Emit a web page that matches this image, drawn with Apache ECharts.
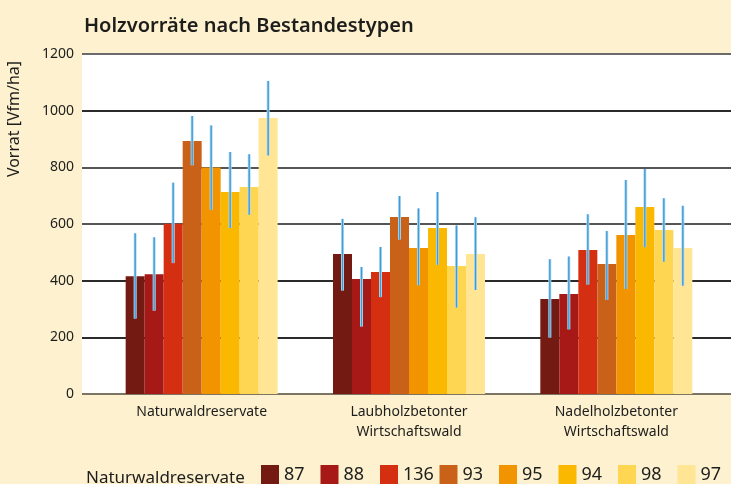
<!DOCTYPE html>
<html>
<head>
<meta charset="utf-8">
<title>Holzvorräte nach Bestandestypen</title>
<script src="https://cdn.jsdelivr.net/npm/echarts@6/dist/echarts.min.js"></script>
<style>
html, body { margin: 0; padding: 0; background: #fdf1d0; }
#chart { width: 731px; height: 484px; }
</style>
</head>
<body>
<div id="chart"></div>
<script>
// Kategorien und Reihen
var categories = ['Naturwaldreservate', 'Laubholzbetonter\nWirtschaftswald', 'Nadelholzbetonter\nWirtschaftswald'];
var seriesNames = ['87', '88', '136', '93', '95', '94', '98', '97'];
var colors = ['#731a12', '#a61916', '#d42f11', '#c96218', '#f29400', '#fbb800', '#fed651', '#ffe594'];
var yTicks = [0, 200, 400, 600, 800, 1000, 1200];

// Mittelwerte je Reihe, in Reihenfolge der Kategorien
var values = [
	[416, 494, 335],
	[423, 406, 353],
	[601, 431, 508],
	[893, 625, 459],
	[799, 515, 561],
	[713, 586, 660],
	[731, 452, 579],
	[974, 494, 515]
];
// untere / obere Enden der Fehlerbalken
var errLow = [
	[266, 365, 199],
	[294, 238, 228],
	[462, 342, 386],
	[807, 545, 332],
	[650, 384, 371],
	[586, 456, 518],
	[633, 305, 467],
	[842, 367, 382]
];
var errHigh = [
	[567, 618, 476],
	[553, 448, 485],
	[746, 519, 634],
	[981, 699, 575],
	[948, 655, 755],
	[854, 713, 794],
	[846, 595, 691],
	[1105, 624, 664]
];

var BAR_W = 19;
var FONT = 'Noto Sans';
var TXT = '#1d1d1b';

var myChart = echarts.init(document.getElementById('chart'));

var series = [];
var legends = [];
$each = function (arr, fn) { for (var i = 0; i < arr.length; i++) fn(i, arr[i]); };
$each(seriesNames, function (i, name) {
	series.push({
		name: name,
		type: 'bar',
		xAxisIndex: 1,
		yAxisIndex: 1,
		barWidth: BAR_W,
		barGap: 0,
		itemStyle: { color: colors[i], borderWidth: 0 },
		data: values[i],
		z: 2
	});
	// ein Legendeneintrag je Reihe, gleichmässig verteilt
	legends.push({
		data: [name],
		left: 261 + i * 59.5,
		top: 465,
		icon: 'rect',
		itemWidth: 18,
		itemHeight: 19,
		padding: 0,
		textStyle: { fontFamily: FONT, fontSize: 18, color: TXT, padding: [3, 0, 0, 0] }
	});
});

// Fehlerbalken: [kategorie, reihe, unten, oben]
var errData = [];
$each(seriesNames, function (i) {
	$each(categories, function (j) {
		errData.push([j, i, errLow[i][j], errHigh[i][j]]);
	});
});
series.push({
	name: 'err',
	type: 'custom',
	xAxisIndex: 1,
	yAxisIndex: 1,
	z: 5,
	silent: true,
	data: errData,
	renderItem: function (params, api) {
		var off = (api.value(1) - 3.5) * BAR_W;
		var p1 = api.coord([api.value(0), api.value(2)]);
		var p2 = api.coord([api.value(0), api.value(3)]);
		return {
			type: 'group',
			children: [{
				type: 'line',
				shape: { x1: p1[0] + off, y1: p1[1], x2: p2[0] + off, y2: p2[1] },
				style: { stroke: '#b5dcf2', lineWidth: 3 }
			}, {
				type: 'line',
				shape: { x1: p1[0] + off, y1: p1[1], x2: p2[0] + off, y2: p2[1] },
				style: { stroke: '#3e9bd6', lineWidth: 1.4 }
			}]
		};
	}
});

var option = {
	backgroundColor: '#fdf1d0',
	animation: false,
	textStyle: { fontFamily: FONT },
	title: [{
		text: 'Holzvorräte nach Bestandestypen',
		left: 79,
		top: 11,
		textStyle: { fontFamily: FONT, fontSize: 20, fontWeight: 600, color: TXT }
	}, {
		text: 'Naturwaldreservate',
		left: 81,
		top: 465,
		textStyle: { fontFamily: FONT, fontSize: 17, fontWeight: 'normal', color: TXT }
	}],
	legend: legends,
	graphic: [{
		type: 'text',
		x: 14,
		y: 119,
		rotation: Math.PI / 2,
		style: {
			text: 'Vorrat [Vfm/ha]',
			font: '16px "Noto Sans"',
			fill: TXT,
			align: 'center',
			verticalAlign: 'middle'
		}
	}],
	grid: [{
		// weisser Hintergrund mit Gitterlinien
		left: 82, right: 0, top: 54, bottom: 90,
		show: true, backgroundColor: '#ffffff', borderWidth: 0,
		outerBoundsMode: 'none'
	}, {
		// Balkenbereich
		left: 98, right: 11, top: 54, bottom: 90,
		outerBoundsMode: 'none'
	}],
	xAxis: [{
		gridIndex: 0,
		type: 'value',
		show: false
	}, {
		gridIndex: 1,
		type: 'category',
		data: categories,
		axisLine: { show: false },
		axisTick: { show: false },
		axisLabel: { fontFamily: FONT, fontSize: 14, color: TXT, margin: 8, lineHeight: 20, interval: 0 }
	}],
	yAxis: [{
		gridIndex: 0,
		type: 'value',
		min: yTicks[0],
		max: yTicks[yTicks.length - 1],
		interval: 200,
		axisLine: { show: false },
		axisTick: { show: false },
		axisLabel: {
			fontFamily: FONT, fontSize: 14, color: TXT, margin: 8,
			formatter: function (value) {
				return String(value);
			}
		},
		splitLine: {
			lineStyle: {
				color: ['#7d7563', '#2a2a2a', '#2a2a2a', '#555', '#555', '#2a2a2a', '#6a6a6a'],
				width: 2
			}
		}
	}, {
		gridIndex: 1,
		type: 'value',
		min: yTicks[0],
		max: yTicks[yTicks.length - 1],
		interval: 200,
		show: false
	}],
	series: series
};
myChart.setOption(option, true);
</script>
</body>
</html>
